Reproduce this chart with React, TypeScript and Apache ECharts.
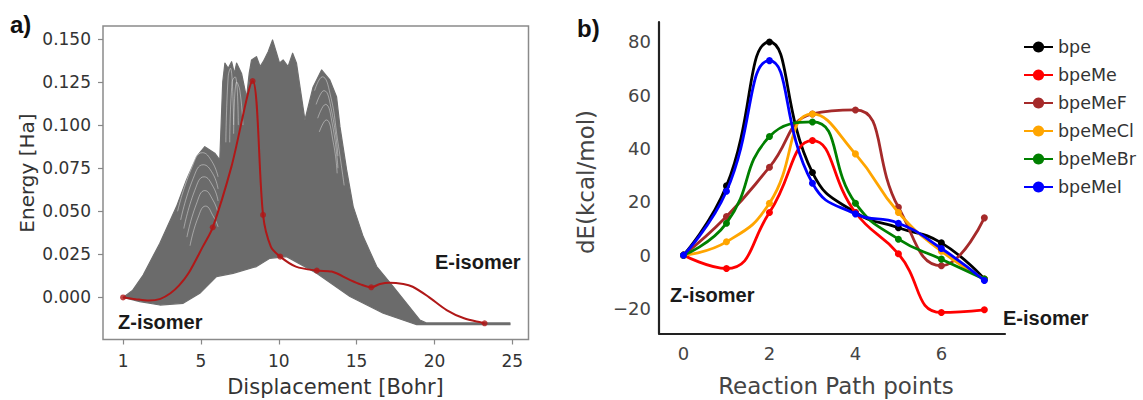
import React, { useEffect, useRef } from 'react';
import * as echarts from 'echarts';

// ---------- Panel a: displacement vs energy ----------
const dispTicks = [0, 5, 10, 15, 20, 25];
const dispTickLabels = ['1', '5', '10', '15', '20', '25'];
const energyTicks = [0, 0.025, 0.05, 0.075, 0.1, 0.125, 0.15];

// highlighted (red) reaction path: nodes
const pathNodeX = [0, 5.76, 8.32, 8.99, 10.09, 12.44, 15.94, 23.22];
const pathNodeE = [0, 0.0407, 0.1256, 0.0479, 0.0237, 0.0156, 0.0059, -0.015];
// red path drawn curve
const pathCurveX = [0, 0.8, 1.66, 2.4, 3.04, 3.6, 4.2, 5.12, 5.76, 6.96, 8.32, 8.99, 9.49, 10.09, 11.1, 12.44, 13.4, 14.56, 15.25, 15.94, 16.5, 17.1, 18.0, 18.6, 19.6, 20.78, 21.9, 23.22];
const pathCurveE = [0, -0.001, -0.0018, -0.0008, 0.0024, 0.007, 0.014, 0.0295, 0.0407, 0.0759, 0.1256, 0.0479, 0.0295, 0.0237, 0.0179, 0.0156, 0.015, 0.0102, 0.0076, 0.0059, 0.0078, 0.0086, 0.0078, 0.0062, 0.0005, -0.0073, -0.0121, -0.015];

// envelope of the grey bundle of paths (upper edge left->right, lower edge right->left)
const bundleUpperX = [0, 0.6, 1.29, 2.36, 3.43, 4.07, 4.72, 5.25, 5.89, 6.21, 6.4, 6.54, 6.75, 6.97, 7.15, 7.29, 7.61, 7.93, 8.1, 8.25, 8.57, 8.8, 9.0, 9.32, 9.6, 9.86, 10.05, 10.28, 10.6, 10.89, 11.14, 11.36, 11.68, 12.2, 12.75, 13.28, 13.71, 13.93, 14.36, 14.78, 15.42, 16.29, 17.35, 18.21, 19.07, 19.5, 24.85];
const bundleUpperE = [0, 0.004, 0.013, 0.0315, 0.0527, 0.0682, 0.0817, 0.0875, 0.0837, 0.0798, 0.125, 0.136, 0.133, 0.1368, 0.13, 0.136, 0.13, 0.116, 0.13, 0.1378, 0.1397, 0.134, 0.1368, 0.1426, 0.1494, 0.1417, 0.136, 0.1378, 0.134, 0.1417, 0.1359, 0.1223, 0.103, 0.122, 0.132, 0.1262, 0.1165, 0.0991, 0.074, 0.0527, 0.0353, 0.0179, 0.0063, -0.0034, -0.0131, -0.0148, -0.0148];
const bundleLowerX = [24.85, 18.86, 16.71, 14.57, 12.43, 10.5, 9.43, 8.57, 7.07, 6.0, 4.93, 3.86, 2.36, 1.07, 0];
const bundleLowerE = [-0.0158, -0.0158, -0.0092, 0.0005, 0.014, 0.0237, 0.0227, 0.0179, 0.014, 0.0121, 0.0024, -0.0034, -0.0044, -0.0024, 0];

// light gaps visible between individual grey paths
const gapStrandsX = [
  [3.5, 4.4, 5.1, 5.7, 6.1],
  [3.7, 4.5, 5.15, 5.75, 6.1],
  [3.9, 4.6, 5.2, 5.8, 6.1],
  [4.1, 4.7, 5.25, 5.8, 6.1],
  [4.3, 4.8, 5.3, 5.8, 6.1],
  [6.6, 6.75, 6.9, 7.1],
  [6.85, 7.0, 7.2, 7.4],
  [7.1, 7.3, 7.5, 7.7],
  [12.3, 12.8, 13.3, 13.8, 14.2],
  [12.4, 12.9, 13.4, 13.8],
  [12.5, 13.0, 13.45, 13.8],
  [12.6, 13.05, 13.5, 13.75],
];
const gapStrandsE = [
  [0.05, 0.075, 0.084, 0.079, 0.07],
  [0.045, 0.069, 0.077, 0.072, 0.063],
  [0.04, 0.062, 0.07, 0.064, 0.056],
  [0.035, 0.054, 0.062, 0.056, 0.049],
  [0.03, 0.046, 0.053, 0.047, 0.041],
  [0.09, 0.128, 0.133, 0.1],
  [0.09, 0.125, 0.128, 0.1],
  [0.095, 0.125, 0.12, 0.1],
  [0.12, 0.128, 0.118, 0.09, 0.065],
  [0.112, 0.12, 0.108, 0.082],
  [0.104, 0.112, 0.1, 0.075],
  [0.096, 0.103, 0.09, 0.072],
];

// ---------- Panel b: reaction path energies ----------
const rxnPoints = [0, 1, 2, 3, 4, 5, 6, 7];
const rxnTicks = [0, 2, 4, 6];
const dETicks = [-20, 0, 20, 40, 60, 80];
const bpe = [0, 26, 80, 31, 16, 10.3, 4.6, -9];
const bpeMe = [0, -5, 16, 43, 16, 0.5, -21.5, -20.5];
const bpeMeF = [0, 14.5, 33, 53, 54.5, 18, -4, 14];
const bpeMeCl = [0, 5, 19.5, 53, 38, 16, 1.5, -9];
const bpeMeBr = [0, 12, 44.5, 50, 19.5, 6, -1.5, -9];
const bpeMeI = [0, 24, 73, 27, 15.5, 12, 2.5, -9.5];
const molNames = ['bpe', 'bpeMe', 'bpeMeF', 'bpeMeCl', 'bpeMeBr', 'bpeMeI'];
const molValues = [bpe, bpeMe, bpeMeF, bpeMeCl, bpeMeBr, bpeMeI];
const molColors = ['#000000', '#ff0000', '#a52a2a', '#ffa500', '#008000', '#0000ff'];

const zip = (xs: number[], ys: number[]) => xs.map((x, i) => [x, ys[i]]);

export default function App() {
  const ref = useRef<HTMLDivElement>(null);
  useEffect(() => {
    if (!ref.current) return;
    const chart = echarts.init(ref.current, undefined, { renderer: 'svg' });
    const outline = [...zip(bundleUpperX, bundleUpperE), ...zip(bundleLowerX, bundleLowerE)];
    const sansA = 'DejaVu Sans';
    const boldF = 'Liberation Sans';

    const series: any[] = [
      {
        type: 'custom',
        xAxisIndex: 0,
        yAxisIndex: 0,
        silent: true,
        z: 1,
        data: [[0, 0]],
        renderItem: (_p: any, api: any) => ({
          type: 'polygon',
          shape: { points: outline.map((p) => api.coord(p)) },
          style: { fill: '#6b6b6b', stroke: '#6e6e6e', lineWidth: 1.2, lineJoin: 'round' },
        }),
      },
      ...gapStrandsX.map((xs, i) => ({
        type: 'line',
        xAxisIndex: 0,
        yAxisIndex: 0,
        data: zip(xs, gapStrandsE[i]),
        smooth: true,
        showSymbol: false,
        silent: true,
        z: 2,
        lineStyle: { color: '#ffffff', width: 0.8, opacity: 0.5 },
      })),
      {
        type: 'line',
        xAxisIndex: 0,
        yAxisIndex: 0,
        data: zip(pathCurveX, pathCurveE),
        smooth: 0.3,
        showSymbol: false,
        z: 3,
        lineStyle: { color: '#b01818', width: 2 },
      },
      {
        type: 'scatter',
        xAxisIndex: 0,
        yAxisIndex: 0,
        data: zip(pathNodeX, pathNodeE),
        symbolSize: 6,
        z: 4,
        itemStyle: { color: '#b01818' },
      },
      ...molNames.map((name, i) => ({
        type: 'line',
        name,
        xAxisIndex: 1,
        yAxisIndex: 1,
        data: zip(rxnPoints, molValues[i]),
        smooth: true,
        symbol: 'circle',
        symbolSize: 7,
        z: 5 + i,
        lineStyle: { color: molColors[i], width: 2.8 },
        itemStyle: { color: molColors[i] },
      })),
    ];

    chart.setOption({
      animation: false,
      backgroundColor: '#ffffff',
      grid: [
        { left: 103, top: 26, width: 425.5, height: 313.5, show: true, borderColor: '#8a8a8a', borderWidth: 1.5, backgroundColor: 'transparent' },
        { left: 659, top: 22, width: 346, height: 311.5, show: false },
      ],
      xAxis: [
        {
          type: 'value', gridIndex: 0, min: -1.29, max: 26.04,
          axisLine: { show: false, onZero: false },
          axisTick: { show: true, inside: false, customValues: dispTicks, length: 5, lineStyle: { color: '#888', width: 1.2 } },
          axisLabel: {
            customValues: dispTicks, margin: 13, color: '#333', fontFamily: sansA, fontSize: 17,
            formatter: (v: number) => dispTickLabels[dispTicks.indexOf(v)] ?? String(v),
          },
          splitLine: { show: false },
        },
        {
          type: 'value', gridIndex: 1, min: -0.57, max: 7.48,
          axisLine: { show: true, onZero: false, lineStyle: { color: '#222', width: 2.2 } },
          axisTick: { show: false },
          axisLabel: { customValues: rxnTicks, margin: 11, color: '#444', fontFamily: sansA, fontSize: 18 },
          splitLine: { show: false },
        },
      ],
      yAxis: [
        {
          type: 'value', gridIndex: 0, min: -0.0244, max: 0.1575,
          axisLine: { show: false, onZero: false },
          axisTick: { show: true, inside: false, customValues: energyTicks, length: 5, lineStyle: { color: '#888', width: 1.2 } },
          axisLabel: {
            customValues: energyTicks, margin: 12, color: '#333', fontFamily: sansA, fontSize: 17,
            formatter: (v: number) => v.toFixed(3),
          },
          splitLine: { show: false },
        },
        {
          type: 'value', gridIndex: 1, min: -29.4, max: 87.5,
          axisLine: { show: true, onZero: false, lineStyle: { color: '#222', width: 2.2 } },
          axisTick: { show: false },
          axisLabel: {
            customValues: dETicks, margin: 8, color: '#444', fontFamily: sansA, fontSize: 18,
            formatter: (v: number) => String(v).replace('-', '\u2212'),
          },
          splitLine: { show: false },
        },
      ],
      legend: {
        data: molNames,
        orient: 'vertical',
        left: 1018,
        top: 33,
        itemWidth: 29,
        itemHeight: 14,
        itemGap: 10,
        textStyle: { fontFamily: sansA, fontSize: 17.5, color: '#333' },
        selectedMode: false,
      },
      graphic: [
        { type: 'text', x: 10, y: 24, style: { text: 'a)', font: `bold 24px ${boldF}`, fill: '#111', verticalAlign: 'middle' } },
        { type: 'text', x: 577, y: 28, style: { text: 'b)', font: `bold 24px ${boldF}`, fill: '#111', verticalAlign: 'middle' } },
        { type: 'text', x: 27, y: 173, rotation: Math.PI / 2, style: { text: 'Energy [Ha]', font: `20px ${sansA}`, fill: '#333', align: 'center', verticalAlign: 'middle' } },
        { type: 'text', x: 335.5, y: 387, style: { text: 'Displacement [Bohr]', font: `21px ${sansA}`, fill: '#333', align: 'center', verticalAlign: 'middle' } },
        { type: 'text', x: 586, y: 182, rotation: Math.PI / 2, style: { text: 'dE(kcal/mol)', font: `23px ${sansA}`, fill: '#444', align: 'center', verticalAlign: 'middle' } },
        { type: 'text', x: 836, y: 386, style: { text: 'Reaction Path points', font: `23px ${sansA}`, fill: '#444', align: 'center', verticalAlign: 'middle' } },
        { type: 'text', x: 118, y: 322, style: { text: 'Z-isomer', font: `bold 20px ${boldF}`, fill: '#1a1a1a', verticalAlign: 'middle' } },
        { type: 'text', x: 435, y: 262, style: { text: 'E-isomer', font: `bold 20px ${boldF}`, fill: '#1a1a1a', verticalAlign: 'middle' } },
        { type: 'text', x: 670, y: 295, style: { text: 'Z-isomer', font: `bold 20px ${boldF}`, fill: '#1a1a1a', verticalAlign: 'middle' } },
        { type: 'text', x: 1003, y: 318, style: { text: 'E-isomer', font: `bold 20px ${boldF}`, fill: '#1a1a1a', verticalAlign: 'middle' } },
      ],
      series,
    });
    return () => chart.dispose();
  }, []);
  return (
    <div
      ref={ref}
      style={{ position: 'fixed', left: 0, top: 0, width: 1143, height: 400, background: '#fff' }}
    />
  );
}
